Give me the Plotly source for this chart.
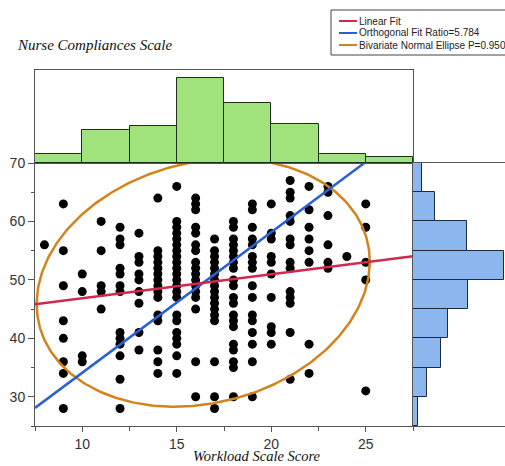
import numpy as np
import plotly.graph_objects as go

# ---------------- data ----------------
workload_levels = [8, 9, 10, 11, 12, 13, 14, 15, 16, 17, 18, 19, 20, 21, 22, 23, 24, 25]
compliance_by_level = [
    [56],
    [63, 55, 49, 43, 40, 36, 34, 28],
    [51, 48, 37, 36],
    [60, 55, 49, 48, 45],
    [59, 57, 56, 52, 51, 49, 48, 41, 40, 39, 37, 33, 28],
    [58, 54, 53, 51, 50, 48, 46, 41, 38],
    [64, 55, 54, 53, 52, 51, 50, 49, 48, 47, 44, 43, 38, 36, 34],
    [66, 60, 59, 58, 57, 56, 55, 54, 53, 52, 51, 50, 49, 48, 47, 44, 43, 41, 40, 39, 37, 34],
    [64, 63, 62, 59, 58, 56, 55, 53, 52, 51, 50, 49, 48, 47, 45, 36, 30],
    [57, 55, 54, 53, 52, 51, 50, 49, 48, 47, 46, 45, 44, 43, 36, 30, 28],
    [60, 59, 57, 56, 55, 54, 53, 52, 50, 49, 47, 46, 44, 43, 42, 39, 38, 36, 35, 30],
    [63, 62, 59, 57, 56, 54, 53, 52, 49, 47, 44, 43, 41, 39, 36, 30],
    [63, 58, 57, 54, 53, 51, 47, 42, 41, 39],
    [67, 65, 64, 61, 60, 57, 56, 53, 52, 48, 47, 46, 41, 33],
    [66, 62, 59, 57, 55, 53, 39, 34],
    [66, 65, 61, 56, 53, 52],
    [54],
    [63, 59, 53, 50, 31],
]

# marginal histogram of workload (bins of 2.5 from 7.5)
workload_bin_centers = [8.75, 11.25, 13.75, 16.25, 18.75, 21.25, 23.75, 26.25]
workload_bin_counts = [6, 21, 24, 55, 39, 25, 6, 4]

# marginal histogram of compliance (bins of 5 from 25)
compliance_bin_centers = [27.5, 32.5, 37.5, 42.5, 47.5, 52.5, 57.5, 62.5, 67.5]
compliance_bin_counts = [3, 8, 16, 20, 32, 53, 31, 13, 5]

mean_workload = 16.4
mean_compliance = 49.5
sd_workload = 3.6
orthogonal_ratio = 5.784
correlation = 0.1705
ellipse_p = 0.95

x_tick_vals = [10, 15, 20, 25]
y_tick_vals = [30, 40, 50, 60, 70]

# ---------------- derived ----------------
xs, ys = [], []
for lvl, vals in zip(workload_levels, compliance_by_level):
    for v in vals:
        xs.append(lvl)
        ys.append(v)

sd_compliance = sd_workload * np.sqrt(orthogonal_ratio)
sxx = sd_workload ** 2
syy = sd_compliance ** 2
sxy = correlation * sd_workload * sd_compliance

lin_slope = sxy / sxx
orth_slope = (syy - orthogonal_ratio * sxx +
              np.sqrt((syy - orthogonal_ratio * sxx) ** 2 + 4 * orthogonal_ratio * sxy ** 2)) / (2 * sxy)

x_line = np.array([7.5, 27.5])
lin_y = mean_compliance + lin_slope * (x_line - mean_workload)
orth_y = mean_compliance + orth_slope * (x_line - mean_workload)

c = np.sqrt(-2 * np.log(1 - ellipse_p))
t = np.linspace(0, 2 * np.pi, 361)
ell_x = mean_workload + c * sd_workload * np.cos(t)
ell_y = mean_compliance + c * sd_compliance * (correlation * np.cos(t) +
                                               np.sqrt(1 - correlation ** 2) * np.sin(t))

# ---------------- figure ----------------
RED = "#d2284c"
BLUE = "#2b5fd4"
ORANGE = "#d4821c"
AX = "#555555"
TICKFONT = dict(family="Liberation Sans, Arial", size=14, color="#333333")

W, H = 505, 466
ML, MR, MT, MB = 35, 0, 70, 40
pw, ph = W - ML - MR, H - MT - MB
x_split = (413 - ML) / pw
y_split = (426 - 163) / ph

fig = go.Figure()

fig.add_trace(go.Scatter(x=xs, y=ys, mode="markers",
                         marker=dict(color="black", size=9),
                         xaxis="x", yaxis="y", hoverinfo="x+y"))
fig.add_trace(go.Scatter(x=ell_x, y=ell_y, mode="lines",
                         line=dict(color=ORANGE, width=2.5), xaxis="x", yaxis="y"))
fig.add_trace(go.Scatter(x=x_line, y=orth_y, mode="lines",
                         line=dict(color=BLUE, width=2.5), xaxis="x", yaxis="y"))
fig.add_trace(go.Scatter(x=x_line, y=lin_y, mode="lines",
                         line=dict(color=RED, width=2.5), xaxis="x", yaxis="y"))

fig.add_trace(go.Bar(x=workload_bin_centers, y=workload_bin_counts, width=2.5,
                     marker=dict(color="#a0e27c", line=dict(color="#1f2f1f", width=1)),
                     xaxis="x2", yaxis="y2"))
fig.add_trace(go.Bar(y=compliance_bin_centers, x=compliance_bin_counts, width=5, orientation="h",
                     marker=dict(color="#8cb6ee", line=dict(color="#1f2a3a", width=1)),
                     xaxis="x3", yaxis="y3"))

fig.update_layout(
    width=W, height=H,
    margin=dict(l=ML, r=MR, t=MT, b=MB, autoexpand=False),
    paper_bgcolor="white", plot_bgcolor="white",
    showlegend=False, bargap=0,
    xaxis=dict(domain=[0, x_split], anchor="y", range=[7.5, 27.5], automargin=False,
               tickvals=x_tick_vals, ticks="outside", ticklen=5, tickcolor=AX,
               minor=dict(tick0=7.5, dtick=2.5, ticks="outside", ticklen=4, tickcolor=AX),
               showline=True, linecolor=AX, linewidth=1, mirror=True,
               showgrid=False, zeroline=False, tickfont=TICKFONT),
    yaxis=dict(domain=[0, y_split], anchor="x", range=[25, 70], automargin=False,
               tickvals=y_tick_vals, ticks="outside", ticklen=6, tickcolor=AX,
               minor=dict(tick0=25, dtick=5, ticks="outside", ticklen=3, tickcolor=AX),
               showline=True, linecolor=AX, linewidth=1, mirror=True,
               showgrid=False, zeroline=False, tickfont=TICKFONT),
    xaxis2=dict(domain=[0, x_split], anchor="y2", range=[7.5, 27.5], automargin=False,
                showticklabels=False, ticks="", showline=True, linecolor=AX, mirror=True,
                showgrid=False, zeroline=False),
    yaxis2=dict(domain=[y_split, 1], anchor="x2", range=[0, 60], automargin=False,
                showticklabels=False, ticks="", showline=True, linecolor=AX, mirror=True,
                showgrid=False, zeroline=False),
    xaxis3=dict(domain=[x_split, 1], anchor="y3", range=[0, 53.3], automargin=False,
                showticklabels=False, ticks="", showline=True, linecolor=AX, mirror=True,
                showgrid=False, zeroline=False),
    yaxis3=dict(domain=[0, y_split], anchor="x3", range=[25, 70], automargin=False,
                showticklabels=False, ticks="", showline=True, linecolor=AX, mirror=False,
                showgrid=False, zeroline=False),
)

def px_x(p):
    return (p - ML) / pw

def px_y(p):
    return (H - MB - p) / ph

fig.add_annotation(text="<i>Workload Scale Score</i>", xref="paper", yref="paper",
                   x=px_x(257), y=px_y(466), xanchor="center", yanchor="bottom",
                   showarrow=False,
                   font=dict(family="Liberation Serif, DejaVu Serif", size=14.5, color="#111111"))
fig.add_annotation(text="<i>Nurse Compliances Scale</i>", xref="paper", yref="paper",
                   x=px_x(15), y=px_y(45), xanchor="left", yanchor="middle",
                   showarrow=False,
                   font=dict(family="Liberation Serif, DejaVu Serif", size=15, color="#111111"))

# custom legend
fig.add_shape(type="rect", xref="paper", yref="paper",
              x0=px_x(331), x1=px_x(506), y0=px_y(55), y1=px_y(10),
              line=dict(color="#444444", width=1), fillcolor="white", layer="above")
legend_names = ["Linear Fit", "Orthogonal Fit Ratio=5.784", "Bivariate Normal Ellipse P=0.950"]
legend_colors = [RED, BLUE, ORANGE]
legend_rows = [21, 33, 45]
for name, col, row in zip(legend_names, legend_colors, legend_rows):
    fig.add_shape(type="line", xref="paper", yref="paper",
                  x0=px_x(339), x1=px_x(357), y0=px_y(row), y1=px_y(row),
                  line=dict(color=col, width=2), layer="above")
    fig.add_annotation(text=name, xref="paper", yref="paper",
                       x=px_x(357), y=px_y(row), xanchor="left", yanchor="middle",
                       showarrow=False, font=dict(family="Liberation Sans, Arial", size=10, color="#222222"))

fig.write_html("out.html", config={"displayModeBar": False},
               post_script="document.body.style.margin='0';document.body.style.overflow='hidden';")
